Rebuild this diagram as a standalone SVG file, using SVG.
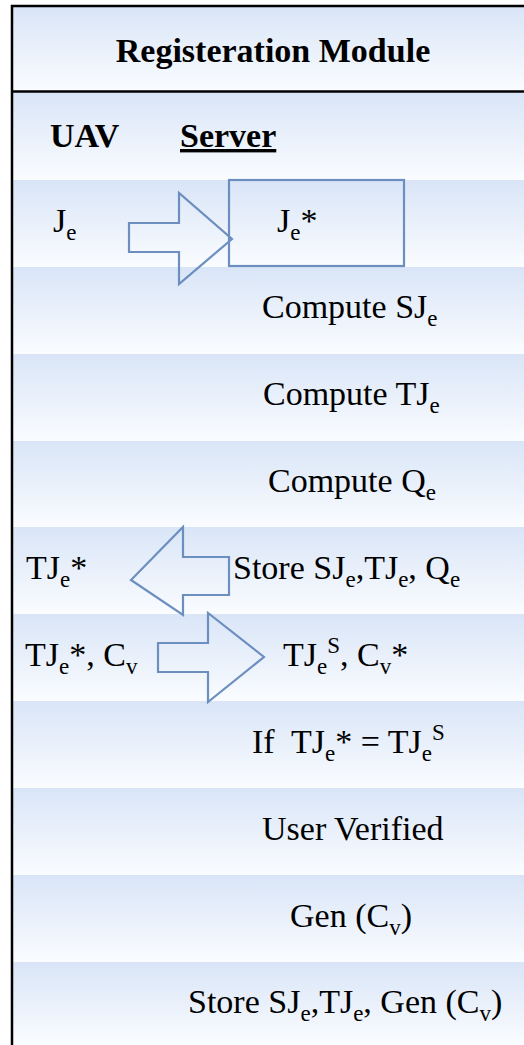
<svg xmlns="http://www.w3.org/2000/svg" width="524" height="1045" viewBox="0 0 524 1045">
<defs>
<linearGradient id="rowg" x1="0" y1="0" x2="0" y2="1">
<stop offset="0" stop-color="#d9e5f7"/>
<stop offset="1" stop-color="#fafcff"/>
</linearGradient>
</defs>
<style>
.row{fill:url(#rowg);}
.t{font-family:'Liberation Serif','Times New Roman',serif;font-size:34px;fill:#000;}
.b{font-weight:bold;}
.sub{font-size:23px;}
.arrow{fill:none;stroke:#6c8fc0;stroke-width:2.2;stroke-linejoin:miter;}
.border{stroke:#000;stroke-width:2.5;fill:none;}
</style>
<g id="background">
<rect class="row" x="12" y="7" width="512" height="84"/>
<rect class="row" x="12" y="92" width="512" height="88"/>
<rect class="row" x="12" y="180" width="512" height="87"/>
<rect class="row" x="12" y="267" width="512" height="87"/>
<rect class="row" x="12" y="354" width="512" height="87"/>
<rect class="row" x="12" y="441" width="512" height="86"/>
<rect class="row" x="12" y="527" width="512" height="87"/>
<rect class="row" x="12" y="614" width="512" height="87"/>
<rect class="row" x="12" y="701" width="512" height="87"/>
<rect class="row" x="12" y="788" width="512" height="87"/>
<rect class="row" x="12" y="875" width="512" height="87"/>
<rect class="row" x="12" y="962" width="512" height="83"/>
<path class="border" d="M12 1045 V6 H524"/>
<line class="border" x1="12" y1="91.5" x2="524" y2="91.5"/>
</g>
<g id="header">
<text class="t b" x="273" y="62" text-anchor="middle" font-size="34.5">Registeration Module</text>
</g>
<g id="roles">
<text class="t b" x="50" y="147" font-size="30">UAV</text>
<text class="t b" x="180" y="147" text-decoration="underline">Server</text>
</g>
<g id="node-je">
<text class="t" x="53" y="232">J<tspan class="sub" dy="8">e</tspan></text>
</g>
<g id="node-je-star">
<rect x="229" y="180" width="175" height="86" fill="none" stroke="#6c8fc0" stroke-width="2.2"/>
<text class="t" x="277" y="232">J<tspan class="sub" dy="8">e</tspan><tspan dy="-8">*</tspan></text>
</g>
<g id="node-compute-sje">
<text class="t" x="262" y="318">Compute SJ<tspan class="sub" dy="8">e</tspan></text>
</g>
<g id="node-compute-tje">
<text class="t" x="263" y="405">Compute TJ<tspan class="sub" dy="8">e</tspan></text>
</g>
<g id="node-compute-qe">
<text class="t" x="268" y="492">Compute Q<tspan class="sub" dy="8">e</tspan></text>
</g>
<g id="node-tje-star">
<text class="t" x="26" y="579">TJ<tspan class="sub" dy="8">e</tspan><tspan dy="-8">*</tspan></text>
</g>
<g id="node-store1">
<text class="t" x="233" y="579">Store SJ<tspan class="sub" dy="8">e</tspan><tspan dy="-8">,TJ</tspan><tspan class="sub" dy="8">e</tspan><tspan dy="-8">, Q</tspan><tspan class="sub" dy="8">e</tspan></text>
</g>
<g id="node-tje-cv">
<text class="t" x="25" y="666">TJ<tspan class="sub" dy="8">e</tspan><tspan dy="-8">*, C</tspan><tspan class="sub" dy="8">v</tspan></text>
</g>
<g id="node-tjes-cv">
<text class="t" x="283" y="666">TJ<tspan class="sub" dy="8">e</tspan><tspan class="sub" dy="-21">S</tspan><tspan dy="13">, C</tspan><tspan class="sub" dy="8">v</tspan><tspan dy="-8">*</tspan></text>
</g>
<g id="node-if">
<text class="t" x="252" y="753" xml:space="preserve">If  TJ<tspan class="sub" dy="8">e</tspan><tspan dy="-8">* = TJ</tspan><tspan class="sub" dy="8">e</tspan><tspan class="sub" dy="-21">S</tspan></text>
</g>
<g id="node-verified">
<text class="t" x="262" y="840">User Verified</text>
</g>
<g id="node-gen">
<text class="t" x="290" y="927">Gen (C<tspan class="sub" dy="8">v</tspan><tspan dy="-8">)</tspan></text>
</g>
<g id="node-store2">
<text class="t" x="188" y="1013">Store SJ<tspan class="sub" dy="8">e</tspan><tspan dy="-8">,TJ</tspan><tspan class="sub" dy="8">e</tspan><tspan dy="-8">, Gen (C</tspan><tspan class="sub" dy="8">v</tspan><tspan dy="-8">)</tspan></text>
</g>
<g id="connectors">
<polygon class="arrow" points="129,223 179,223 179,193 232,239 179,284 179,252 129,252"/>
<polygon class="arrow" points="229,557 183,557 183,527 131,580 183,615 183,595 229,595"/>
<polygon class="arrow" points="158,643 208,643 208,613 264,657 208,702 208,672 158,672"/>
</g>
</svg>
